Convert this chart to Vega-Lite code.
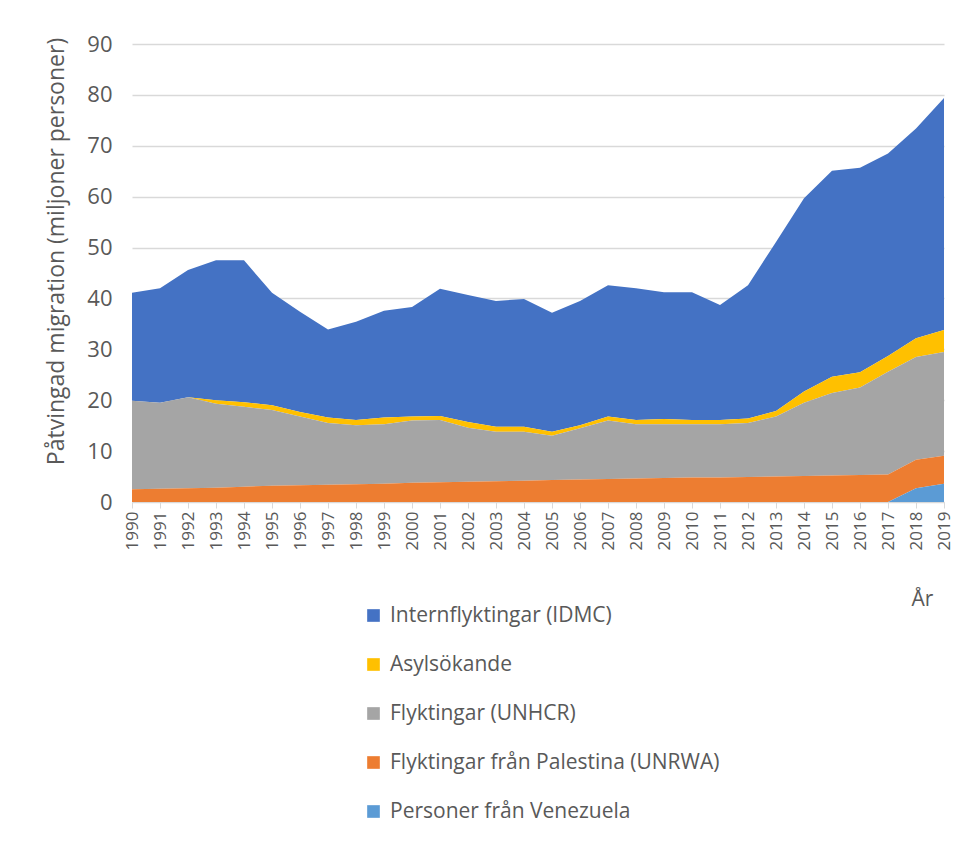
{
  "$schema": "https://vega.github.io/schema/vega-lite/v6.json",
  "width": 812,
  "height": 458,
  "autosize": {"type": "none"},
  "padding": {"left": 132, "top": 44, "right": 15, "bottom": 342},
  "background": "white",
  "config": {
    "font": "Open Sans",
    "view": {"stroke": null}
  },
  "data": {
    "values": [
      {"year": "1990", "serie": "Internflyktingar (IDMC)", "value": 21.2},
      {"year": "1990", "serie": "Asylsökande", "value": 0},
      {"year": "1990", "serie": "Flyktingar (UNHCR)", "value": 17.4},
      {"year": "1990", "serie": "Flyktingar från Palestina (UNRWA)", "value": 2.5},
      {"year": "1990", "serie": "Personer från Venezuela", "value": 0},
      {"year": "1991", "serie": "Internflyktingar (IDMC)", "value": 22.5},
      {"year": "1991", "serie": "Asylsökande", "value": 0},
      {"year": "1991", "serie": "Flyktingar (UNHCR)", "value": 16.9},
      {"year": "1991", "serie": "Flyktingar från Palestina (UNRWA)", "value": 2.6},
      {"year": "1991", "serie": "Personer från Venezuela", "value": 0},
      {"year": "1992", "serie": "Internflyktingar (IDMC)", "value": 25.0},
      {"year": "1992", "serie": "Asylsökande", "value": 0},
      {"year": "1992", "serie": "Flyktingar (UNHCR)", "value": 17.9},
      {"year": "1992", "serie": "Flyktingar från Palestina (UNRWA)", "value": 2.7},
      {"year": "1992", "serie": "Personer från Venezuela", "value": 0},
      {"year": "1993", "serie": "Internflyktingar (IDMC)", "value": 27.5},
      {"year": "1993", "serie": "Asylsökande", "value": 0.7},
      {"year": "1993", "serie": "Flyktingar (UNHCR)", "value": 16.5},
      {"year": "1993", "serie": "Flyktingar från Palestina (UNRWA)", "value": 2.8},
      {"year": "1993", "serie": "Personer från Venezuela", "value": 0},
      {"year": "1994", "serie": "Internflyktingar (IDMC)", "value": 27.9},
      {"year": "1994", "serie": "Asylsökande", "value": 0.9},
      {"year": "1994", "serie": "Flyktingar (UNHCR)", "value": 15.7},
      {"year": "1994", "serie": "Flyktingar från Palestina (UNRWA)", "value": 3.0},
      {"year": "1994", "serie": "Personer från Venezuela", "value": 0},
      {"year": "1995", "serie": "Internflyktingar (IDMC)", "value": 22.1},
      {"year": "1995", "serie": "Asylsökande", "value": 0.9},
      {"year": "1995", "serie": "Flyktingar (UNHCR)", "value": 14.9},
      {"year": "1995", "serie": "Flyktingar från Palestina (UNRWA)", "value": 3.2},
      {"year": "1995", "serie": "Personer från Venezuela", "value": 0},
      {"year": "1996", "serie": "Internflyktingar (IDMC)", "value": 19.7},
      {"year": "1996", "serie": "Asylsökande", "value": 0.9},
      {"year": "1996", "serie": "Flyktingar (UNHCR)", "value": 13.5},
      {"year": "1996", "serie": "Flyktingar från Palestina (UNRWA)", "value": 3.3},
      {"year": "1996", "serie": "Personer från Venezuela", "value": 0},
      {"year": "1997", "serie": "Internflyktingar (IDMC)", "value": 17.3},
      {"year": "1997", "serie": "Asylsökande", "value": 1.1},
      {"year": "1997", "serie": "Flyktingar (UNHCR)", "value": 12.1},
      {"year": "1997", "serie": "Flyktingar från Palestina (UNRWA)", "value": 3.4},
      {"year": "1997", "serie": "Personer från Venezuela", "value": 0},
      {"year": "1998", "serie": "Internflyktingar (IDMC)", "value": 19.3},
      {"year": "1998", "serie": "Asylsökande", "value": 1.0},
      {"year": "1998", "serie": "Flyktingar (UNHCR)", "value": 11.6},
      {"year": "1998", "serie": "Flyktingar från Palestina (UNRWA)", "value": 3.5},
      {"year": "1998", "serie": "Personer från Venezuela", "value": 0},
      {"year": "1999", "serie": "Internflyktingar (IDMC)", "value": 21.0},
      {"year": "1999", "serie": "Asylsökande", "value": 1.3},
      {"year": "1999", "serie": "Flyktingar (UNHCR)", "value": 11.7},
      {"year": "1999", "serie": "Flyktingar från Palestina (UNRWA)", "value": 3.6},
      {"year": "1999", "serie": "Personer från Venezuela", "value": 0},
      {"year": "2000", "serie": "Internflyktingar (IDMC)", "value": 21.5},
      {"year": "2000", "serie": "Asylsökande", "value": 0.8},
      {"year": "2000", "serie": "Flyktingar (UNHCR)", "value": 12.2},
      {"year": "2000", "serie": "Flyktingar från Palestina (UNRWA)", "value": 3.8},
      {"year": "2000", "serie": "Personer från Venezuela", "value": 0},
      {"year": "2001", "serie": "Internflyktingar (IDMC)", "value": 25.0},
      {"year": "2001", "serie": "Asylsökande", "value": 0.8},
      {"year": "2001", "serie": "Flyktingar (UNHCR)", "value": 12.2},
      {"year": "2001", "serie": "Flyktingar från Palestina (UNRWA)", "value": 3.9},
      {"year": "2001", "serie": "Personer från Venezuela", "value": 0},
      {"year": "2002", "serie": "Internflyktingar (IDMC)", "value": 25.0},
      {"year": "2002", "serie": "Asylsökande", "value": 1.1},
      {"year": "2002", "serie": "Flyktingar (UNHCR)", "value": 10.6},
      {"year": "2002", "serie": "Flyktingar från Palestina (UNRWA)", "value": 4.0},
      {"year": "2002", "serie": "Personer från Venezuela", "value": 0},
      {"year": "2003", "serie": "Internflyktingar (IDMC)", "value": 24.7},
      {"year": "2003", "serie": "Asylsökande", "value": 1.0},
      {"year": "2003", "serie": "Flyktingar (UNHCR)", "value": 9.7},
      {"year": "2003", "serie": "Flyktingar från Palestina (UNRWA)", "value": 4.1},
      {"year": "2003", "serie": "Personer från Venezuela", "value": 0},
      {"year": "2004", "serie": "Internflyktingar (IDMC)", "value": 25.1},
      {"year": "2004", "serie": "Asylsökande", "value": 1.0},
      {"year": "2004", "serie": "Flyktingar (UNHCR)", "value": 9.6},
      {"year": "2004", "serie": "Flyktingar från Palestina (UNRWA)", "value": 4.2},
      {"year": "2004", "serie": "Personer från Venezuela", "value": 0},
      {"year": "2005", "serie": "Internflyktingar (IDMC)", "value": 23.4},
      {"year": "2005", "serie": "Asylsökande", "value": 0.8},
      {"year": "2005", "serie": "Flyktingar (UNHCR)", "value": 8.7},
      {"year": "2005", "serie": "Flyktingar från Palestina (UNRWA)", "value": 4.3},
      {"year": "2005", "serie": "Personer från Venezuela", "value": 0},
      {"year": "2006", "serie": "Internflyktingar (IDMC)", "value": 24.4},
      {"year": "2006", "serie": "Asylsökande", "value": 0.6},
      {"year": "2006", "serie": "Flyktingar (UNHCR)", "value": 10.1},
      {"year": "2006", "serie": "Flyktingar från Palestina (UNRWA)", "value": 4.4},
      {"year": "2006", "serie": "Personer från Venezuela", "value": 0},
      {"year": "2007", "serie": "Internflyktingar (IDMC)", "value": 25.8},
      {"year": "2007", "serie": "Asylsökande", "value": 0.8},
      {"year": "2007", "serie": "Flyktingar (UNHCR)", "value": 11.5},
      {"year": "2007", "serie": "Flyktingar från Palestina (UNRWA)", "value": 4.5},
      {"year": "2007", "serie": "Personer från Venezuela", "value": 0},
      {"year": "2008", "serie": "Internflyktingar (IDMC)", "value": 25.9},
      {"year": "2008", "serie": "Asylsökande", "value": 0.8},
      {"year": "2008", "serie": "Flyktingar (UNHCR)", "value": 10.7},
      {"year": "2008", "serie": "Flyktingar från Palestina (UNRWA)", "value": 4.6},
      {"year": "2008", "serie": "Personer från Venezuela", "value": 0},
      {"year": "2009", "serie": "Internflyktingar (IDMC)", "value": 24.9},
      {"year": "2009", "serie": "Asylsökande", "value": 1.0},
      {"year": "2009", "serie": "Flyktingar (UNHCR)", "value": 10.6},
      {"year": "2009", "serie": "Flyktingar från Palestina (UNRWA)", "value": 4.7},
      {"year": "2009", "serie": "Personer från Venezuela", "value": 0},
      {"year": "2010", "serie": "Internflyktingar (IDMC)", "value": 25.1},
      {"year": "2010", "serie": "Asylsökande", "value": 0.8},
      {"year": "2010", "serie": "Flyktingar (UNHCR)", "value": 10.5},
      {"year": "2010", "serie": "Flyktingar från Palestina (UNRWA)", "value": 4.8},
      {"year": "2010", "serie": "Personer från Venezuela", "value": 0},
      {"year": "2011", "serie": "Internflyktingar (IDMC)", "value": 22.6},
      {"year": "2011", "serie": "Asylsökande", "value": 0.8},
      {"year": "2011", "serie": "Flyktingar (UNHCR)", "value": 10.5},
      {"year": "2011", "serie": "Flyktingar från Palestina (UNRWA)", "value": 4.8},
      {"year": "2011", "serie": "Personer från Venezuela", "value": 0},
      {"year": "2012", "serie": "Internflyktingar (IDMC)", "value": 26.2},
      {"year": "2012", "serie": "Asylsökande", "value": 0.9},
      {"year": "2012", "serie": "Flyktingar (UNHCR)", "value": 10.6},
      {"year": "2012", "serie": "Flyktingar från Palestina (UNRWA)", "value": 4.9},
      {"year": "2012", "serie": "Personer från Venezuela", "value": 0},
      {"year": "2013", "serie": "Internflyktingar (IDMC)", "value": 33.2},
      {"year": "2013", "serie": "Asylsökande", "value": 1.1},
      {"year": "2013", "serie": "Flyktingar (UNHCR)", "value": 11.8},
      {"year": "2013", "serie": "Flyktingar från Palestina (UNRWA)", "value": 5.0},
      {"year": "2013", "serie": "Personer från Venezuela", "value": 0},
      {"year": "2014", "serie": "Internflyktingar (IDMC)", "value": 38.0},
      {"year": "2014", "serie": "Asylsökande", "value": 2.2},
      {"year": "2014", "serie": "Flyktingar (UNHCR)", "value": 14.4},
      {"year": "2014", "serie": "Flyktingar från Palestina (UNRWA)", "value": 5.1},
      {"year": "2014", "serie": "Personer från Venezuela", "value": 0},
      {"year": "2015", "serie": "Internflyktingar (IDMC)", "value": 40.5},
      {"year": "2015", "serie": "Asylsökande", "value": 3.2},
      {"year": "2015", "serie": "Flyktingar (UNHCR)", "value": 16.2},
      {"year": "2015", "serie": "Flyktingar från Palestina (UNRWA)", "value": 5.2},
      {"year": "2015", "serie": "Personer från Venezuela", "value": 0},
      {"year": "2016", "serie": "Internflyktingar (IDMC)", "value": 40.2},
      {"year": "2016", "serie": "Asylsökande", "value": 3.0},
      {"year": "2016", "serie": "Flyktingar (UNHCR)", "value": 17.2},
      {"year": "2016", "serie": "Flyktingar från Palestina (UNRWA)", "value": 5.3},
      {"year": "2016", "serie": "Personer från Venezuela", "value": 0},
      {"year": "2017", "serie": "Internflyktingar (IDMC)", "value": 39.8},
      {"year": "2017", "serie": "Asylsökande", "value": 3.1},
      {"year": "2017", "serie": "Flyktingar (UNHCR)", "value": 20.2},
      {"year": "2017", "serie": "Flyktingar från Palestina (UNRWA)", "value": 5.4},
      {"year": "2017", "serie": "Personer från Venezuela", "value": 0},
      {"year": "2018", "serie": "Internflyktingar (IDMC)", "value": 41.2},
      {"year": "2018", "serie": "Asylsökande", "value": 3.7},
      {"year": "2018", "serie": "Flyktingar (UNHCR)", "value": 20.2},
      {"year": "2018", "serie": "Flyktingar från Palestina (UNRWA)", "value": 5.6},
      {"year": "2018", "serie": "Personer från Venezuela", "value": 2.7},
      {"year": "2019", "serie": "Internflyktingar (IDMC)", "value": 45.6},
      {"year": "2019", "serie": "Asylsökande", "value": 4.3},
      {"year": "2019", "serie": "Flyktingar (UNHCR)", "value": 20.4},
      {"year": "2019", "serie": "Flyktingar från Palestina (UNRWA)", "value": 5.5},
      {"year": "2019", "serie": "Personer från Venezuela", "value": 3.6}
    ]
  },
  "transform": [
    {"calculate": "indexof(['Internflyktingar (IDMC)', 'Asylsökande', 'Flyktingar (UNHCR)', 'Flyktingar från Palestina (UNRWA)', 'Personer från Venezuela'], datum.serie)", "as": "stackorder"}
  ],
  "mark": {"type": "area", "interpolate": "linear"},
  "encoding": {
    "x": {
      "field": "year",
      "type": "ordinal",
      "scale": {"type": "point", "padding": 0},
      "axis": {
        "title": "År",
        "titleFontSize": 21,
        "titleFontWeight": "normal",
        "titleColor": "#595959",
        "titleX": 790,
        "titleY": 103,
        "titleAlign": "center",
        "titleBaseline": "alphabetic",
        "labelAngle": -90,
        "labelFontSize": 17,
        "labelColor": "#595959",
        "labelPadding": 3,
        "domainColor": "#D9D9D9",
        "tickColor": "#D9D9D9",
        "tickSize": 6,
        "grid": false
      }
    },
    "y": {
      "field": "value",
      "type": "quantitative",
      "stack": "zero",
      "scale": {"domain": [0, 90], "nice": false},
      "axis": {
        "title": "Påtvingad migration (miljoner personer)",
        "titleFontSize": 23,
        "titleFontWeight": "normal",
        "titleColor": "#595959",
        "titleX": -69,
        "titleY": 207,
        "titleAlign": "center",
        "titleAngle": -90,
        "titleBaseline": "alphabetic",
        "values": [0, 10, 20, 30, 40, 50, 60, 70, 80, 90],
        "labelFontSize": 22,
        "labelColor": "#595959",
        "labelPadding": 20,
        "ticks": false,
        "domain": false,
        "gridColor": "#D9D9D9",
        "gridWidth": 1.3
      }
    },
    "order": {"field": "stackorder", "type": "quantitative", "sort": "descending"},
    "color": {
      "field": "serie",
      "type": "nominal",
      "sort": ["Internflyktingar (IDMC)", "Asylsökande", "Flyktingar (UNHCR)", "Flyktingar från Palestina (UNRWA)", "Personer från Venezuela"],
      "scale": {
        "domain": ["Internflyktingar (IDMC)", "Asylsökande", "Flyktingar (UNHCR)", "Flyktingar från Palestina (UNRWA)", "Personer från Venezuela"],
        "range": ["#4472C4", "#FFC000", "#A5A5A5", "#ED7D31", "#5B9BD5"]
      },
      "legend": {
        "title": null,
        "orient": "none",
        "legendX": 231,
        "legendY": 561,
        "direction": "vertical",
        "symbolType": "square",
        "symbolSize": 160,
        "symbolStrokeWidth": 0,
        "symbolOpacity": 1,
        "labelFontSize": 21,
        "labelColor": "#595959",
        "labelOffset": 6,
        "rowPadding": 27,
        "labelLimit": 500
      }
    },
    "opacity": {"value": 1}
  }
}
